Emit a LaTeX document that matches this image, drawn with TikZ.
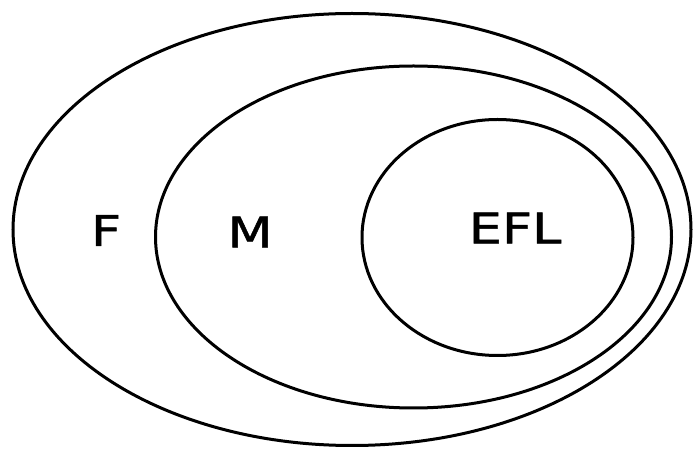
\documentclass[tikz,border=0pt]{standalone}
\usepackage{fontspec}
\newfontfamily\labfont[FakeStretch=1.25,FakeBold=1.2]{DejaVu Sans}
\begin{document}
\begin{tikzpicture}[x=1pt,y=-1pt,
  ring/.style={draw=black,line width=3pt},
  lab/.style={font=\labfont\fontsize{42}{48}\selectfont,inner sep=0pt,anchor=center}]
\useasboundingbox (0,0) rectangle (694,454);
\draw[ring] (352,229.5) ellipse [x radius=339, y radius=216];
\draw[ring] (413.5,237) ellipse [x radius=258, y radius=171];
\draw[ring] (497.5,237.5) ellipse [x radius=135.5, y radius=118];
\node[lab] (f) at (106,230.5) {F};
\node[lab] (m) at (250,232) {M};
\node[lab] (efl) at (515,228) {EFL};
\end{tikzpicture}
\end{document}
